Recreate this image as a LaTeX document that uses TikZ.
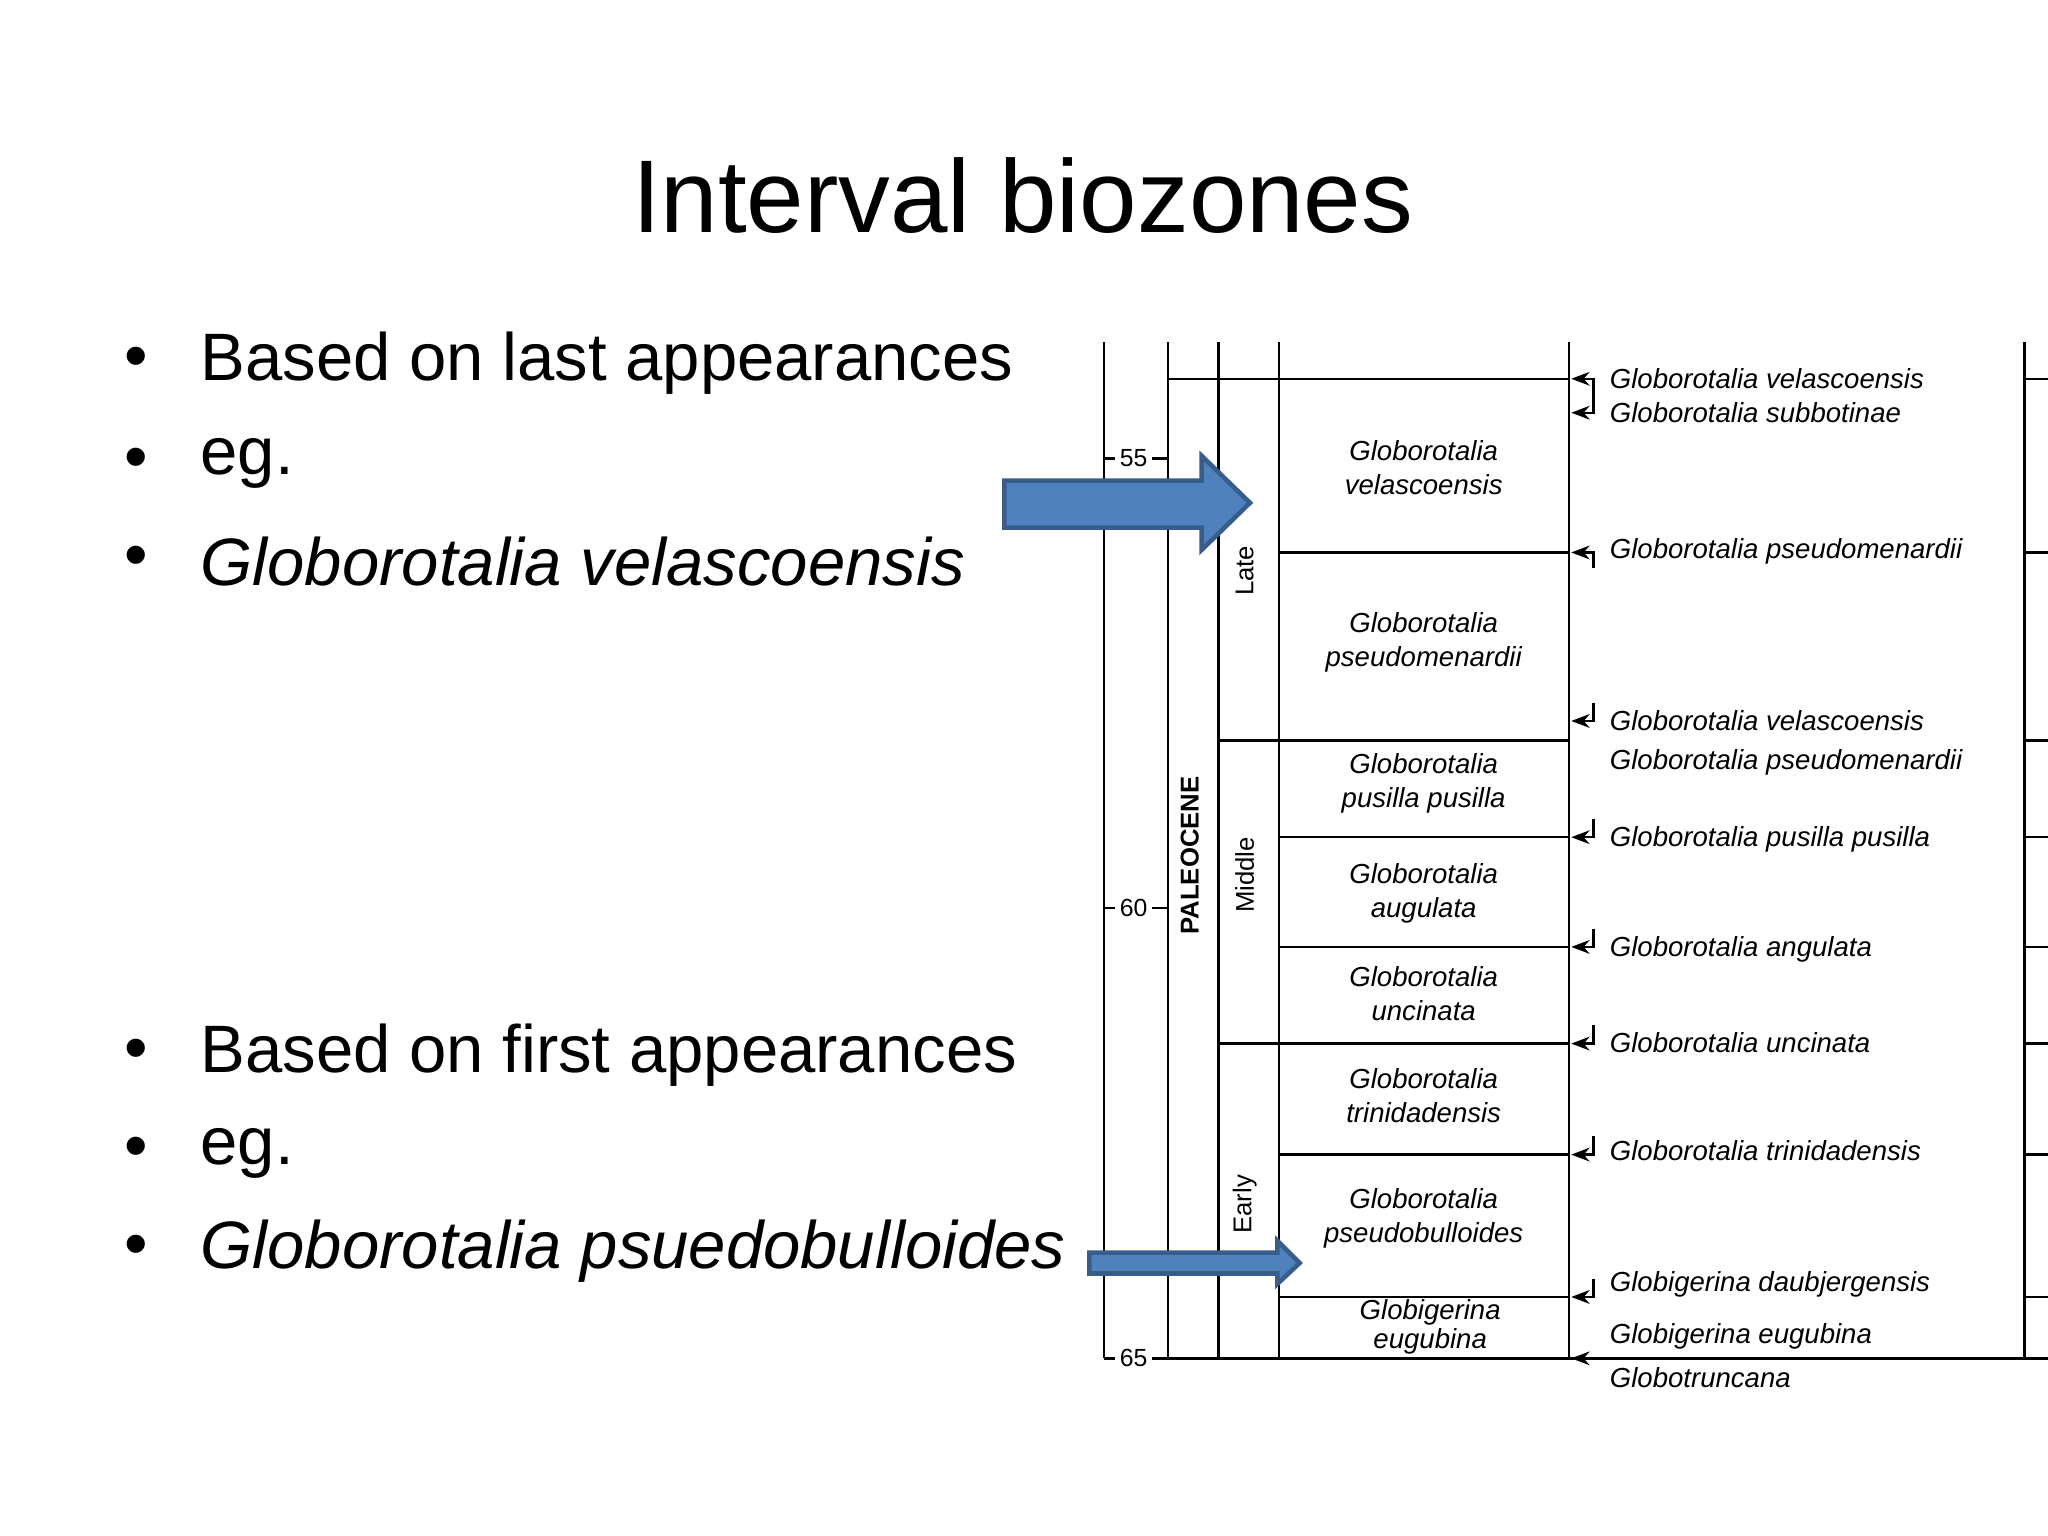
\documentclass[tikz,border=0pt]{standalone}
\usepackage{fontspec}
\setmainfont{Liberation Sans}
\usetikzlibrary{arrows.meta}
\definecolor{arrowfill}{RGB}{79,129,189}
\definecolor{arrowline}{RGB}{56,93,138}
\tikzset{
  bullet/.style={anchor=west,font=\fontsize{14.6}{18}\selectfont},
  zone/.style={align=center,font=\fontsize{6}{7.4}\selectfont\itshape},
  taxon/.style={anchor=west,font=\fontsize{6}{7}\selectfont\itshape},
  period/.style={rotate=90,font=\fontsize{5.6}{7}\selectfont},
  age/.style={fill=white,inner sep=1pt,font=\fontsize{5.4}{7}\selectfont},
  bigarrow/.style={draw=arrowline,fill=arrowfill,line width=1pt},
}
\begin{document}
\begin{tikzpicture}[x=0.01cm,y=-0.01cm,line width=0.5pt]
\useasboundingbox (0,0) rectangle (1568,1176);
% title
\node (title) at (783,150) {\fontsize{22.5}{28}\selectfont Interval biozones};
% bullets
\foreach \y/\t [count=\i] in {278/Based on last appearances,355/eg.,
    430/\textit{Globorotalia velascoensis},808/Based on first appearances,
    883/eg.,958/\textit{Globorotalia psuedobulloides}}{
  \node[bullet] (dot\i) at (83,\y) {\textbullet};
  \node[bullet] (item\i) at (141,\y) {\t};
}
% columns
\foreach \x in {845,894,933,979,1201,1550}
  \draw (\x,262) -- (\x,1040);
\draw (845,1040) -- (1568,1040);
\draw (894,290) -- (1201,290);
\foreach \y in {423,641,725,884,993}
  \draw (979,\y) -- (1201,\y);
\foreach \y in {567,799}
  \draw (933,\y) -- (1201,\y);
\foreach \y in {290,423,567,641,725,799,884,993}
  \draw (1550,\y) -- (1568,\y);
% age ticks
\foreach \y/\a in {351/55,695/60,1040/65}{
  \draw (845,\y) -- (894,\y);
  \node[age] (age\a) at (868,\y) {\a};
}
% periods
\node[period,font=\fontsize{5.6}{7}\selectfont\bfseries] (paleocene) at (911,655) {PALEOCENE};
\node[period] (late) at (953,437) {Late};
\node[period] (middle) at (953,670) {Middle};
\node[period] (early) at (953,922) {Early};
% zones
\foreach \y/\t [count=\i] in {358/{Globorotalia\\velascoensis},
    492/{Globorotalia\\pseudomenardii},600/{Globorotalia\\pusilla pusilla},
    684/{Globorotalia\\augulata},761/{Globorotalia\\uncinata},
    839/{Globorotalia\\trinidadensis},933/{Globorotalia\\pseudobulloides}}
  \node[zone] (zone\i) at (1090,\y) {\t};
\node[zone,font=\fontsize{6}{6.2}\selectfont\itshape] (zone8) at (1095,1016) {Globigerina\\eugubina};
% datums
\foreach \y/\t [count=\i] in {290/Globorotalia velascoensis,
    316/Globorotalia subbotinae,422/Globorotalia pseudomenardii,
    552/Globorotalia velascoensis,584/Globorotalia pseudomenardii,
    643/Globorotalia pusilla pusilla,727/Globorotalia angulata,
    798/Globorotalia uncinata,881/Globorotalia trinidadensis,
    983/Globigerina daubjergensis,1023/Globigerina eugubina,
    1055/Globotruncana}
  \node[taxon] (taxon\i) at (1220,\y) {\t};
\foreach \y in {316,552,641,725,799,884,993}
  \draw[-{Stealth[length=4pt,width=3pt]}] (1220,\y-14) |- (1203,\y);
\foreach \y in {290,423}
  \draw[-{Stealth[length=4pt,width=3pt]}] (1220,\y+12) |- (1203,\y);
\draw[-{Stealth[length=4pt,width=3pt]}] (1240,1040) -- (1203,1040);
% pointers
\filldraw[bigarrow] (769,368) -- (920,368) -- (920,349) -- (957,385)
  -- (920,421) -- (920,404) -- (769,404) -- cycle;
\filldraw[bigarrow] (834,959) -- (978,959) -- (978,950) -- (995,967)
  -- (978,983) -- (978,975) -- (834,975) -- cycle;
\end{tikzpicture}
\end{document}
